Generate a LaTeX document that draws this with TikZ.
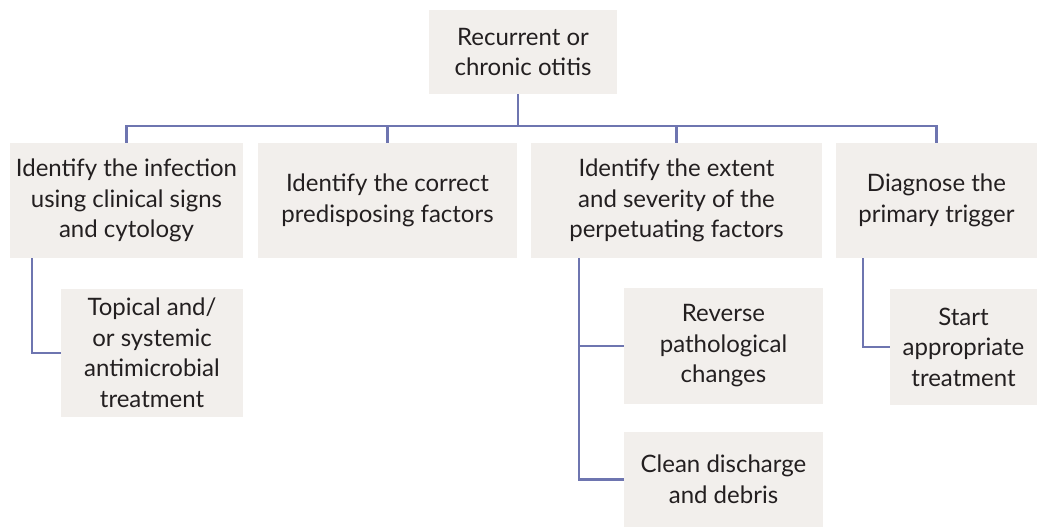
\documentclass[tikz,border=0pt]{standalone}
\usepackage{fontspec}
\setmainfont{Lato}
\definecolor{boxfill}{HTML}{F2EFEC}
\definecolor{linec}{HTML}{6E75B0}
\definecolor{txt}{HTML}{231F20}
\begin{document}
\begin{tikzpicture}[x=1pt,y=-1pt,
  box/.style={fill=boxfill, draw=none, inner sep=0pt, align=center, text=txt,
    font=\fontsize{24}{30.5}\selectfont},
  conn/.style={draw=linec, line width=2.6pt}]
\useasboundingbox (0,0) rectangle (1037,527);
\node[box, minimum width=188, minimum height=84] (top) at (523,52) {Recurrent or\\chronic otitis};
\node[box, minimum width=233, minimum height=115] (b1) at (126.5,200.5) {Identify the infection\\using clinical signs\\and cytology};
\node[box, minimum width=259, minimum height=115] (b2) at (387.5,200.5) {Identify the correct\\predisposing factors};
\node[box, minimum width=291, minimum height=115] (b3) at (676.5,200.5) {Identify the extent\\and severity of the\\perpetuating factors};
\node[box, minimum width=201, minimum height=115] (b4) at (936.5,200.5) {Diagnose the\\primary trigger};
\node[box, minimum width=182, minimum height=128] (c1) at (152,353) {Topical and/\\or systemic\\antimicrobial\\treatment};
\node[box, minimum width=199, minimum height=116] (c3a) at (723.5,346) {Reverse\\pathological\\changes};
\node[box, minimum width=199, minimum height=95] (c3b) at (723.5,479.5) {Clean discharge\\and debris};
\node[box, minimum width=147, minimum height=116] (c4) at (963.5,347) {Start\\appropriate\\treatment};
\coordinate (bus) at (518,126);
\draw[conn] (bus |- top.south) -- (bus);
\draw[conn] (b1.north) |- (bus) -| (b4.north);
\draw[conn] (b2.north) -- (b2.north |- bus);
\draw[conn] (b3.north) -- (b3.north |- bus);
\draw[conn] ([xshift=22]b1.south west) |- (c1.west);
\draw[conn] ([xshift=48]b3.south west) |- (c3a.west);
\draw[conn] ([xshift=48]b3.south west) |- (c3b.west);
\draw[conn] ([xshift=27]b4.south west) |- (c4.west);
\end{tikzpicture}
\end{document}
